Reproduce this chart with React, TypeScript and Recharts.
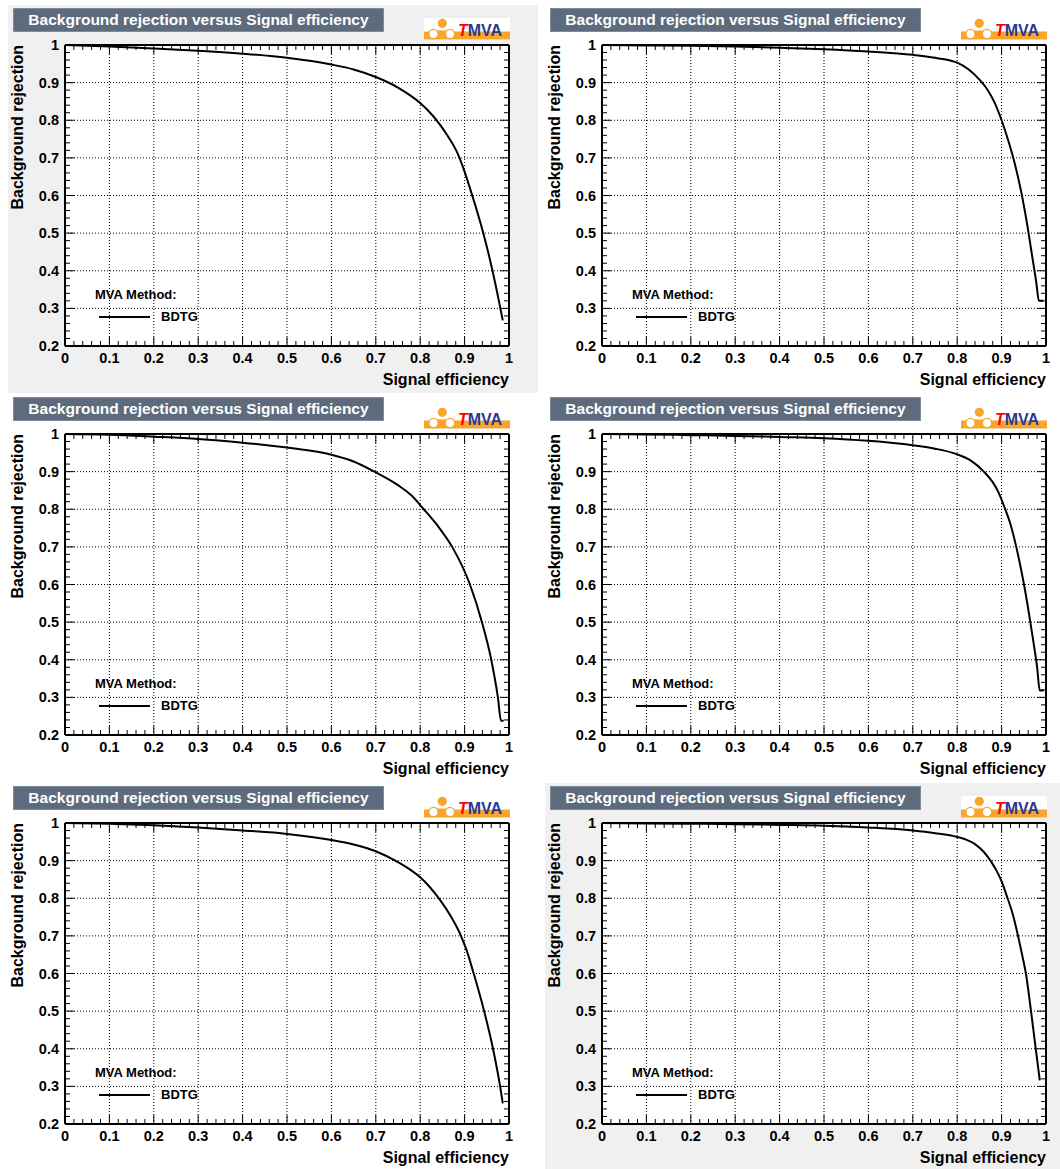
import React from 'react';
import { LineChart, Line, XAxis, YAxis, CartesianGrid, Legend, Label } from 'recharts';

const FONT = '"Liberation Sans", Arial, Helvetica, sans-serif';
const ORANGE = '#f9a52b';

// axis ticks (ROOT 510 divisions: 10 primary, 5 secondary)
const xMajor = [0, 0.1, 0.2, 0.3, 0.4, 0.5, 0.6, 0.7, 0.8, 0.9, 1];
const xTickLabels = ['0', '0.1', '0.2', '0.3', '0.4', '0.5', '0.6', '0.7', '0.8', '0.9', '1'];
const yMajor = [0.2, 0.3, 0.4, 0.5, 0.6, 0.7, 0.8, 0.9, 1];
const yTickLabels = ['0.2', '0.3', '0.4', '0.5', '0.6', '0.7', '0.8', '0.9', '1'];

const subdivide = (major: number[]) =>
  major
    .flatMap((v, i) =>
      i === major.length - 1 ? [v] : [0, 0.02, 0.04, 0.06, 0.08].map((d) => Math.round((v + d) * 100) / 100)
    );
const xTicks = subdivide(xMajor);
const yTicks = subdivide(yMajor);

// ROC curves, one per canvas (signal efficiency / background rejection)
const effA = [0, 0.1, 0.2, 0.3, 0.4, 0.5, 0.6, 0.65, 0.7, 0.75, 0.78, 0.8, 0.83, 0.86, 0.885, 0.898, 0.91, 0.935, 0.955, 0.972, 0.986];
const rejA = [1, 0.996, 0.991, 0.985, 0.977, 0.966, 0.948, 0.935, 0.915, 0.887, 0.864, 0.846, 0.81, 0.762, 0.71, 0.67, 0.627, 0.53, 0.44, 0.35, 0.268];

const effB = [0, 0.1, 0.2, 0.3, 0.4, 0.5, 0.6, 0.7, 0.75, 0.8, 0.85, 0.87, 0.885, 0.9, 0.915, 0.93, 0.945, 0.958, 0.97, 0.978, 0.984, 0.994];
const rejB = [1, 0.999, 0.998, 0.996, 0.993, 0.989, 0.983, 0.974, 0.966, 0.953, 0.908, 0.878, 0.845, 0.8, 0.746, 0.683, 0.605, 0.52, 0.43, 0.37, 0.32, 0.32];

const effC = [0, 0.1, 0.2, 0.3, 0.4, 0.5, 0.55, 0.6, 0.65, 0.697, 0.75, 0.78, 0.808, 0.84, 0.872, 0.912, 0.939, 0.96, 0.975, 0.982, 0.988];
const rejC = [1, 0.998, 0.993, 0.987, 0.977, 0.964, 0.956, 0.945, 0.927, 0.9, 0.864, 0.837, 0.8, 0.755, 0.7, 0.6, 0.5, 0.4, 0.3, 0.238, 0.238];

const effD = [0, 0.1, 0.2, 0.3, 0.4, 0.5, 0.6, 0.7, 0.75, 0.8, 0.83, 0.86, 0.88, 0.893, 0.905, 0.92, 0.933, 0.943, 0.952, 0.962, 0.972, 0.98, 0.986, 0.995];
const rejD = [1, 0.999, 0.997, 0.995, 0.992, 0.989, 0.982, 0.97, 0.961, 0.946, 0.93, 0.9, 0.872, 0.845, 0.81, 0.76, 0.7, 0.645, 0.59, 0.52, 0.445, 0.38, 0.318, 0.318];

const effE = [0, 0.1, 0.2, 0.3, 0.4, 0.5, 0.6, 0.65, 0.7, 0.75, 0.78, 0.8, 0.82, 0.845, 0.87, 0.89, 0.905, 0.918, 0.944, 0.964, 0.98, 0.986];
const rejE = [1, 0.998, 0.994, 0.988, 0.98, 0.971, 0.955, 0.943, 0.925, 0.896, 0.874, 0.856, 0.832, 0.795, 0.75, 0.705, 0.66, 0.61, 0.5, 0.4, 0.3, 0.255];

const effF = [0, 0.1, 0.2, 0.3, 0.4, 0.5, 0.6, 0.7, 0.75, 0.8, 0.82, 0.84, 0.86, 0.875, 0.89, 0.9, 0.912, 0.925, 0.937, 0.947, 0.955, 0.963, 0.97, 0.978, 0.986];
const rejF = [1, 0.999, 0.998, 0.997, 0.995, 0.993, 0.988, 0.98, 0.973, 0.963, 0.956, 0.944, 0.923, 0.9, 0.87, 0.845, 0.805, 0.758, 0.7, 0.645, 0.598, 0.53, 0.465, 0.39, 0.316];

const curves = [
  [effA, rejA],
  [effB, rejB],
  [effC, rejC],
  [effD, rejD],
  [effE, rejE],
  [effF, rejF],
];

const isMajor = (v: number) => Math.abs(v * 10 - Math.round(v * 10)) < 1e-6;
const labelFor = (v: number, major: number[], labels: string[]) => {
  const i = major.findIndex((m) => Math.abs(m - v) < 1e-6);
  return i >= 0 ? labels[i] : '';
};

function FrameTick(props: any) {
  const { x, y, payload, side, labels } = props;
  const v = payload.value;
  const major = isMajor(v);
  const len = major ? 9 : 5;
  let line = null;
  if (side === 'bottom') line = <line x1={x} y1={y} x2={x} y2={y - len} />;
  if (side === 'top') line = <line x1={x} y1={y} x2={x} y2={y + len} />;
  if (side === 'left') line = <line x1={x} y1={y} x2={x + len} y2={y} />;
  if (side === 'right') line = <line x1={x} y1={y} x2={x - len} y2={y} />;
  const textStyle = { fontFamily: FONT, fontWeight: 'bold' as const, fontSize: 14.5, fill: '#000' };
  return (
    <g>
      <g stroke="#000" strokeWidth={1}>{line}</g>
      {labels && major && side === 'bottom' && (
        <text x={x} y={y + 17} textAnchor="middle" style={textStyle}>
          {labelFor(v, xMajor, xTickLabels)}
        </text>
      )}
      {labels && major && side === 'left' && (
        <text x={x - 6} y={y + 5} textAnchor="end" style={textStyle}>
          {labelFor(v, yMajor, yTickLabels)}
        </text>
      )}
    </g>
  );
}

const titleStyle = { fontFamily: FONT, fontWeight: 'bold' as const, fontSize: 16, fill: '#000' };

function XTitle(props: any) {
  const vb = props.viewBox;
  return (
    <text x={vb.x + vb.width} y={vb.y + 39} textAnchor="end" style={titleStyle}>
      Signal efficiency
    </text>
  );
}

function YTitle(props: any) {
  const vb = props.viewBox;
  const tx = vb.x + vb.width - 42;
  const ty = vb.y;
  return (
    <text x={tx} y={ty} textAnchor="end" transform={`rotate(-90, ${tx}, ${ty})`} style={titleStyle}>
      Background rejection
    </text>
  );
}

function MethodLegend(props: any) {
  const entry = (props.payload || [])[0];
  return (
    <div style={{ fontFamily: FONT, fontWeight: 'bold', fontSize: 13, color: '#000', lineHeight: '15px' }}>
      <div>MVA Method:</div>
      <div style={{ display: 'flex', alignItems: 'center', marginTop: 7 }}>
        <span style={{ display: 'inline-block', width: 51, borderTop: '2px solid #000', marginLeft: 4 }} />
        <span style={{ marginLeft: 11 }}>{entry ? entry.value : 'BDTG'}</span>
      </div>
    </div>
  );
}

function TmvaLogo() {
  return (
    <svg width={86} height={22} style={{ position: 'absolute', left: 416, top: 13 }}>
      <rect x={0} y={0} width={86} height={22} fill="#fff" />
      <rect x={0} y={13.5} width={86} height={8} fill={ORANGE} />
      <circle cx={18.3} cy={5.3} r={4.6} fill={ORANGE} />
      <rect x={9} y={12.5} width={17} height={3} fill={ORANGE} />
      <circle cx={9.5} cy={16} r={4.6} fill="#fff" stroke={ORANGE} strokeWidth={1.3} />
      <circle cx={26} cy={16} r={4.6} fill="#fff" stroke={ORANGE} strokeWidth={1.3} />
      <text x={34} y={18} style={{ fontFamily: FONT, fontWeight: 'bold', fontSize: 16 }}>
        <tspan fill="#ff0000" fontStyle="italic">T</tspan>
        <tspan fill="#2a3a91">MVA</tspan>
      </text>
    </svg>
  );
}

function RocPanel({ index }: { index: number }) {
  const [eff, rej] = curves[index];
  const data = eff.map((e, i) => ({ eff: e, rej: rej[i] }));
  const col = index % 2;
  const row = Math.floor(index / 2);
  const grey = index === 0 || index === 5;
  return (
    <div
      style={{
        position: 'absolute',
        left: col === 0 ? 8 : 545,
        top: 5 + row * 389,
        width: 530,
        height: 388,
        background: grey ? '#f0f0f0' : '#ffffff',
      }}
    >
      <LineChart width={530} height={388} data={data} margin={{ top: 39, right: 28, bottom: 46, left: 56 }}>
        <CartesianGrid
          xAxisId="b"
          yAxisId="l"
          verticalValues={xMajor}
          horizontalValues={yMajor}
          stroke="#000"
          strokeWidth={1}
          strokeDasharray="1 2"
          fill="#ffffff"
          fillOpacity={1}
        />
        <Line
          xAxisId="b"
          yAxisId="l"
          type="monotone"
          dataKey="rej"
          name="BDTG"
          stroke="#000"
          strokeWidth={2}
          dot={false}
          isAnimationActive={false}
        />
        <XAxis
          xAxisId="b"
          orientation="bottom"
          type="number"
          dataKey="eff"
          domain={[0, 1]}
          allowDataOverflow
          ticks={xTicks}
          interval={0}
          height={1}
          tickSize={0}
          tickMargin={0}
          axisLine={{ stroke: '#000', strokeWidth: 2 }}
          tickLine={false}
          tick={<FrameTick side="bottom" labels />}
        >
          <Label content={XTitle} />
        </XAxis>
        <XAxis
          xAxisId="t"
          orientation="top"
          type="number"
          dataKey="eff"
          domain={[0, 1]}
          allowDataOverflow
          ticks={xTicks}
          interval={0}
          height={1}
          tickSize={0}
          tickMargin={0}
          axisLine={{ stroke: '#000', strokeWidth: 2 }}
          tickLine={false}
          tick={<FrameTick side="top" />}
        />
        <YAxis
          yAxisId="l"
          orientation="left"
          type="number"
          domain={[0.2, 1]}
          allowDataOverflow
          ticks={yTicks}
          interval={0}
          width={1}
          tickSize={0}
          tickMargin={0}
          axisLine={{ stroke: '#000', strokeWidth: 2 }}
          tickLine={false}
          tick={<FrameTick side="left" labels />}
        >
          <Label content={YTitle} />
        </YAxis>
        <YAxis
          yAxisId="r"
          orientation="right"
          type="number"
          domain={[0.2, 1]}
          allowDataOverflow
          ticks={yTicks}
          interval={0}
          width={1}
          tickSize={0}
          tickMargin={0}
          axisLine={{ stroke: '#000', strokeWidth: 2 }}
          tickLine={false}
          tick={<FrameTick side="right" />}
        />
        <Legend
          layout="horizontal"
          verticalAlign="middle"
          align="center"
          wrapperStyle={{ left: 87, top: 282, width: 'auto' }}
          content={MethodLegend}
        />
      </LineChart>
      <div
        style={{
          position: 'absolute',
          left: 5,
          top: 3,
          width: 371,
          height: 24,
          boxSizing: 'border-box',
          background: '#5d6b7d',
          border: '1px solid #7d8b9d',
          color: '#ffffff',
          fontFamily: FONT,
          fontWeight: 'bold',
          fontSize: 15.5,
          lineHeight: '22px',
          textAlign: 'center',
          whiteSpace: 'nowrap',
        }}
      >
        Background rejection versus Signal efficiency
      </div>
      <TmvaLogo />
    </div>
  );
}

export default function App() {
  return (
    <div
      style={{
        position: 'absolute',
        left: 0,
        top: 0,
        width: 1060,
        height: 1169,
        overflow: 'hidden',
        background: '#ffffff',
      }}
    >
      {[0, 1, 2, 3, 4, 5].map((i) => (
        <RocPanel key={i} index={i} />
      ))}
    </div>
  );
}
